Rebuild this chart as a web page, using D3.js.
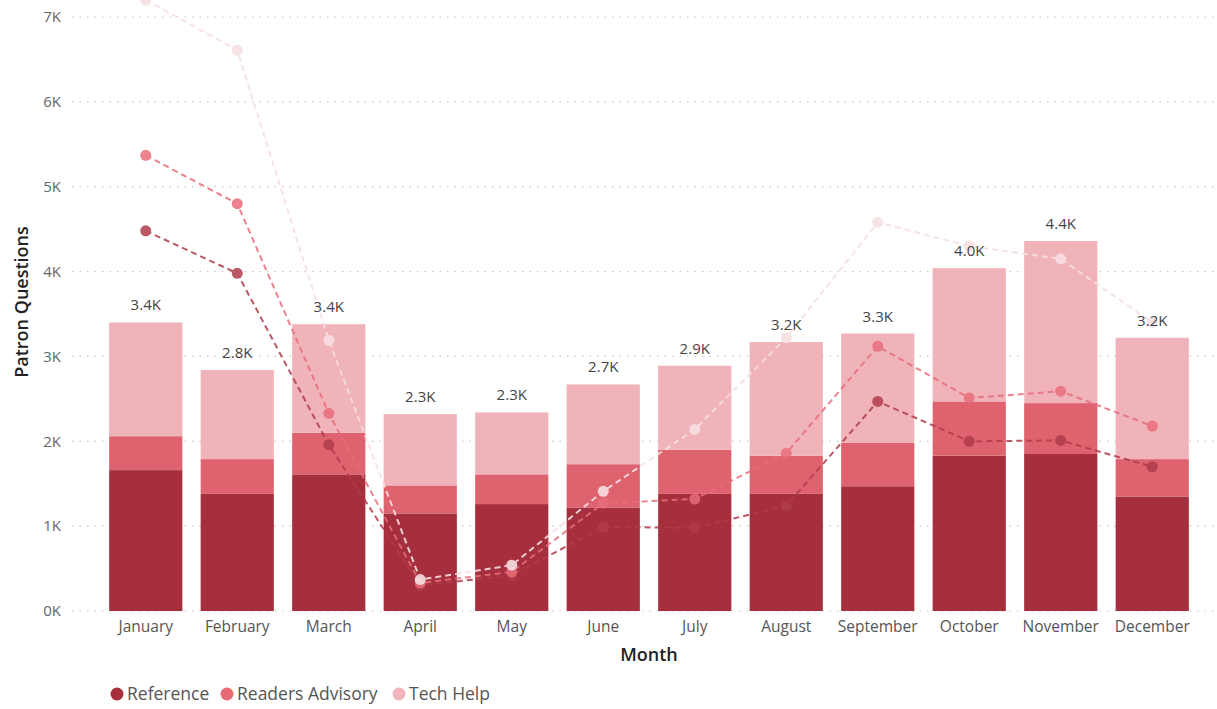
<!DOCTYPE html>
<html>
<head>
<meta charset="utf-8">
<script src="https://cdn.jsdelivr.net/npm/d3@7"></script>
<style>
  body { margin: 0; background: #fff; }
  text { font-family: "Open Sans", "Noto Sans", sans-serif; }
</style>
</head>
<body>
<div id="chart"></div>
<script>
var months = ["January", "February", "March", "April", "May", "June", "July",
              "August", "September", "October", "November", "December"];
var series = ["Reference", "Readers Advisory", "Tech Help"];

// bars (this year)
var barReference = [1660, 1380, 1610, 1150, 1260, 1220, 1380, 1380, 1470, 1830, 1850, 1350];
var barReaders   = [400, 410, 490, 330, 350, 510, 520, 450, 510, 640, 600, 440];
var barTechHelp  = [1340, 1050, 1280, 840, 730, 940, 990, 1340, 1290, 1570, 1910, 1430];

// dashed lines
var lineReference = [4480, 3980, 1960, 300, 420, 990, 980, 1240, 2470, 2000, 2010, 1700];
var lineReaders   = [5370, 4800, 2330, 330, 460, 1270, 1320, 1860, 3120, 2510, 2590, 2180];
var lineTechHelp  = [7200, 6610, 3190, 370, 540, 1410, 2140, 3220, 4580, 4300, 4150, 3400];

var yTicks = [0, 1000, 2000, 3000, 4000, 5000, 6000, 7000];

var barColors = ["#a52f3c", "#df636f", "#efb3b9"];
var lineColors = ["#b03c4b", "#e86d7b", "#f7dfe2"];
var legendColors = ["#a52f3c", "#e86a75", "#f2b5bd"];

var W = 1217, H = 709;

var svg = d3.select("#chart").append("svg")
    .attr("width", W)
    .attr("height", H);

var x = d3.scaleBand()
    .domain(months)
    .range([100, 1198])
    .paddingInner(0.2)
    .paddingOuter(0.1);

var y = d3.scaleLinear()
    .domain([0, 7000])
    .range([611, 17]);

// grid
svg.append("g")
  .selectAll("line")
  .data(yTicks)
  .enter().append("line")
    .attr("x1", 72)
    .attr("x2", W)
    .attr("y1", function(d) { return y(d); })
    .attr("y2", function(d) { return y(d); })
    .attr("stroke", "#c8c8c8")
    .attr("stroke-width", 1.2)
    .attr("stroke-dasharray", "1.5,6");

// y axis labels
var yAxis = svg.append("g")
    .attr("transform", "translate(61,0)")
    .call(d3.axisLeft(y).tickValues(yTicks).tickSize(0).tickPadding(0)
      .tickFormat(function(d) { return (d / 1000) + "K"; }));
yAxis.select(".domain").remove();
yAxis.selectAll("text")
    .attr("fill", "#666")
    .style("font-size", "15px");

svg.append("text")
    .attr("transform", "translate(28,302) rotate(-90)")
    .attr("text-anchor", "middle")
    .attr("fill", "#222")
    .style("font-size", "18px")
    .style("font-weight", "600")
    .text("Patron Questions");

// stacked bars
var rows = months.map(function(m, i) {
  return {month: m, "Reference": barReference[i], "Readers Advisory": barReaders[i], "Tech Help": barTechHelp[i]};
});
var stack = d3.stack().keys(series)(rows);

svg.append("g")
  .selectAll("g")
  .data(stack)
  .enter().append("g")
    .attr("fill", function(d, i) { return barColors[i]; })
  .selectAll("rect")
  .data(function(d) { return d; })
  .enter().append("rect")
    .attr("x", function(d) { return x(d.data.month); })
    .attr("width", x.bandwidth())
    .attr("y", function(d) { return y(d[1]); })
    .attr("height", function(d) { return y(d[0]) - y(d[1]); });

// x axis labels
var xAxis = svg.append("g")
    .attr("transform", "translate(0,616)")
    .call(d3.axisBottom(x).tickSize(0).tickPadding(5));
xAxis.select(".domain").remove();
xAxis.selectAll("text")
    .attr("fill", "#555")
    .style("font-size", "15.5px");

svg.append("text")
    .attr("x", 649)
    .attr("y", 661)
    .attr("text-anchor", "middle")
    .attr("fill", "#222")
    .style("font-size", "18px")
    .style("font-weight", "600")
    .text("Month");

// dashed lines
var lineData = [lineReference, lineReaders, lineTechHelp];
var line = d3.line()
    .x(function(d, i) { return x(months[i]) + x.bandwidth() / 2; })
    .y(function(d) { return y(d); });

lineData.forEach(function(vals, k) {
  var g = svg.append("g").attr("opacity", k == 2 ? 0.9 : 0.85);
  g.append("path")
    .datum(vals)
    .attr("fill", "none")
    .attr("stroke", lineColors[k])
    .attr("stroke-width", 2)
    .attr("stroke-dasharray", "6,4")
    .attr("d", line);
  g.selectAll("circle")
    .data(vals)
    .enter().append("circle")
      .attr("cx", function(d, i) { return x(months[i]) + x.bandwidth() / 2; })
      .attr("cy", function(d) { return y(d); })
      .attr("r", 5.5)
      .attr("fill", lineColors[k]);
});

// total labels
svg.append("g")
  .selectAll("text")
  .data(rows)
  .enter().append("text")
    .attr("x", function(d) { return x(d.month) + x.bandwidth() / 2; })
    .attr("y", function(d) { return y(d["Reference"] + d["Readers Advisory"] + d["Tech Help"]) - 12; })
    .attr("text-anchor", "middle")
    .attr("fill", "#444")
    .style("font-size", "15px")
    .text(function(d) {
      var t = d["Reference"] + d["Readers Advisory"] + d["Tech Help"];
      return (t / 1000).toFixed(1) + "K";
    });

// legend
var legendX = [117, 227, 399];
var legend = svg.append("g").selectAll("g")
  .data(series)
  .enter().append("g")
    .attr("transform", function(d, i) { return "translate(" + legendX[i] + ",694)"; });
legend.append("circle")
    .attr("r", 6.5)
    .attr("fill", function(d, i) { return legendColors[i]; });
legend.append("text")
    .attr("x", 10)
    .attr("y", 6)
    .attr("fill", "#555")
    .style("font-size", "17.5px")
    .text(function(d) { return d; });
</script>
</body>
</html>
